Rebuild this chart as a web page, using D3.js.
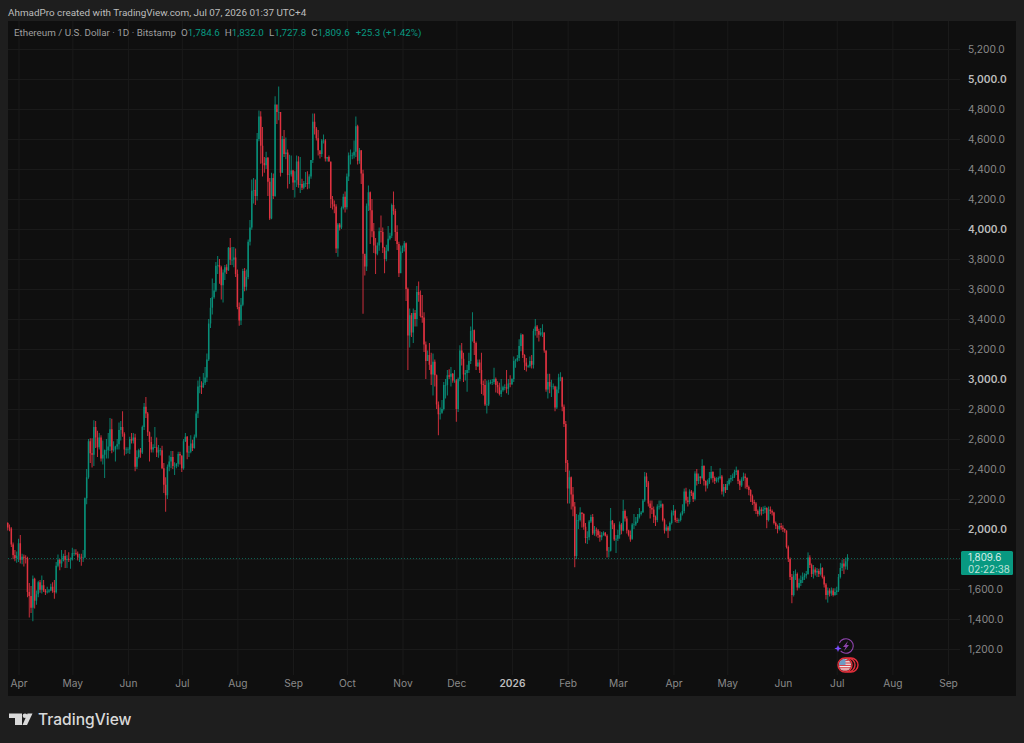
<!DOCTYPE html>
<html lang="en">
	<head>
		<meta charset="utf-8">
		<title>ETHUSD 1D</title>
		<style type="text/css">
			html, body {
				margin: 0;
				padding: 0;
				background: #1e1e1e;
			}
			svg {
				display: block;
				font-family: Roboto, Inter, sans-serif;
			}
		</style>
		<script src="https://cdn.jsdelivr.net/npm/d3@7"></script>
	</head>
	<body>
		<script>

			//Daily closes, Mar 26 2025 to Jul 7 2026, one line per month
			var closes = [
				2010,2003,1897,1826,1806,1822,
				1905,1795,1815,1808,1805,1580,1553,1475,1668,1522,1565,1645,1595,1625,1590,1578,1583,1590,1615,1588,1578,1755,1795,1770,1785,1820,1795,1800,1795,1795,
				1840,1840,1835,1810,1815,1810,1810,2205,2345,2585,2505,2495,2680,2610,2545,2610,2470,2495,2525,2525,2550,2665,2525,2530,2550,2565,2660,2680,2635,2530,2530,
				2530,2600,2590,2610,2415,2480,2525,2510,2680,2815,2770,2645,2580,2530,2545,2545,2510,2525,2525,2405,2295,2225,2415,2450,2480,2420,2420,2435,2500,2490,
				2405,2585,2615,2510,2515,2570,2540,2615,2770,2950,2955,2945,2975,3010,3130,3370,3475,3545,3590,3755,3760,3745,3625,3710,3745,3725,3875,3795,3795,3810,3700,
				3480,3390,3495,3720,3615,3680,3915,4010,4255,4260,4220,4600,4750,4555,4440,4425,4475,4315,4070,4340,4220,4830,4780,4780,4375,4600,4500,4510,4360,4365,4390,
				4310,4325,4450,4295,4300,4275,4305,4305,4300,4350,4460,4715,4670,4605,4525,4500,4590,4590,4470,4480,4450,4200,4165,4150,3870,4030,4010,4140,4215,4145,
				4350,4490,4490,4490,4515,4685,4455,4525,4370,3835,3750,4155,4245,4125,3985,3890,3835,3890,3985,3980,3875,3800,3855,3935,3955,4160,4120,3980,3900,3705,3850,
				3875,3905,3600,3290,3425,3310,3440,3400,3580,3560,3420,3410,3230,3120,3160,3095,3030,3115,3025,2830,2765,2770,2800,2960,2960,3025,3015,3035,2990,2990,
				2800,3000,3190,3135,3030,3040,3060,3120,3320,3325,3240,3085,3110,3060,2965,2960,2830,2830,2975,2980,2980,3000,2960,2945,2900,2925,2945,2945,2935,2970,2965,
				3000,3120,3125,3140,3220,3295,3160,3110,3085,3085,3120,3095,3320,3350,3320,3295,3310,3310,3190,2930,2980,2950,2950,2950,2810,2930,3010,3010,2815,2700,2440,
				2270,2345,2230,2150,1820,2060,2060,2110,2100,2015,1940,1945,2050,2080,1970,1995,1990,1960,1945,1960,1975,1955,1855,1855,2055,2030,1930,1935,
				1960,2030,1990,2120,2070,1990,1960,1930,2030,2030,2050,2080,2100,2110,2190,2350,2310,2170,2140,2130,2080,2060,2150,2150,2165,2060,1990,2010,1990,2040,2110,
				2120,2060,2055,2060,2100,2120,2250,2190,2180,2250,2240,2200,2370,2320,2350,2340,2420,2320,2290,2310,2340,2380,2340,2320,2330,2340,2350,2250,2280,2260,
				2300,2330,2340,2350,2380,2390,2320,2290,2330,2350,2340,2280,2260,2220,2180,2170,2120,2100,2130,2120,2130,2140,2060,2130,2120,2110,2040,2020,2000,2020,2010,
				2000,1990,1880,1800,1680,1560,1690,1700,1610,1640,1660,1680,1690,1700,1810,1760,1700,1730,1710,1720,1700,1740,1680,1630,1560,1590,1570,1590,1560,1580,
				1590,1680,1740,1770,1750,1784.6,1809.6
			];

			var highs = [
				2045,2030,2012,1910,1860,1850,
				1935,1960,1835,1830,1825,1815,1640,1620,1690,1675,1590,1655,1660,1690,1660,1600,1615,1600,1635,1645,1660,1780,1830,1800,1860,1835,1860,1825,1845,1810,
				1875,1865,1865,1850,1835,1835,1860,2210,2400,2600,2605,2605,2725,2720,2655,2640,2625,2590,2530,2600,2640,2740,2735,2585,2555,2600,2710,2720,2785,2645,2545,
				2545,2615,2640,2640,2635,2525,2535,2540,2690,2840,2880,2780,2650,2615,2565,2680,2610,2560,2540,2555,2440,2345,2430,2490,2520,2520,2445,2440,2515,2515,
				2490,2600,2640,2620,2555,2625,2595,2630,2785,2990,3015,2985,3040,3080,3170,3400,3540,3670,3640,3780,3820,3800,3755,3730,3760,3765,3880,3940,3880,3880,3870,
				3730,3510,3540,3735,3740,3730,3930,4060,4330,4340,4330,4640,4790,4785,4680,4480,4515,4480,4340,4375,4370,4885,4800,4950,4780,4620,4660,4610,4530,4495,4490,
				4395,4385,4490,4485,4480,4335,4320,4380,4385,4365,4460,4770,4770,4680,4660,4510,4600,4630,4600,4480,4490,4445,4220,4190,4165,4040,4040,4150,4235,4250,
				4370,4510,4530,4510,4590,4750,4695,4540,4525,4395,3820,4170,4290,4250,4200,4040,3940,3910,4010,4090,4010,3880,3895,4020,3975,4170,4250,4135,4025,3915,3890,
				3890,3920,3910,3610,3470,3440,3470,3460,3620,3650,3590,3560,3445,3250,3190,3240,3175,3170,3130,3030,2850,2810,2860,2980,3000,3060,3065,3080,3040,3060,
				3000,3010,3225,3240,3175,3060,3095,3175,3350,3445,3330,3250,3130,3130,3175,2990,3000,2990,2995,2995,3000,3075,3010,2985,2975,3000,2955,2965,3060,3000,3025,
				3005,3150,3135,3160,3265,3305,3300,3165,3140,3095,3150,3160,3335,3400,3360,3335,3340,3365,3310,3190,3035,3035,2995,2970,2955,2950,3035,3045,3015,2830,2720,
				2460,2390,2350,2280,2180,2100,2095,2145,2110,2105,2040,1985,2060,2095,2100,2020,2010,2000,1985,1980,1985,1980,1965,1880,2140,2060,2040,1960,
				1995,2050,2040,2195,2130,2085,1995,1990,2040,2100,2080,2100,2140,2120,2200,2380,2375,2320,2190,2190,2150,2090,2165,2190,2190,2170,2070,2030,2020,2050,2125,
				2160,2130,2075,2070,2110,2165,2270,2275,2215,2265,2260,2250,2385,2400,2370,2350,2465,2425,2325,2330,2380,2420,2385,2350,2345,2350,2405,2360,2300,2300,
				2320,2340,2360,2370,2395,2416,2395,2330,2345,2376,2370,2345,2290,2265,2230,2195,2180,2130,2150,2145,2150,2155,2145,2150,2150,2130,2115,2050,2030,2040,2040,
				2025,2005,1990,1890,1810,1700,1720,1730,1710,1670,1690,1710,1705,1720,1844,1825,1770,1760,1745,1740,1735,1771,1745,1690,1640,1610,1605,1610,1605,1605,
				1615,1700,1775,1795,1800,1810,1832
			];

			var lows = [
				1990,1985,1880,1800,1785,1775,
				1780,1770,1765,1750,1770,1545,1410,1440,1385,1470,1495,1545,1575,1570,1580,1560,1570,1575,1585,1575,1535,1570,1745,1725,1745,1785,1740,1740,1780,1735,
				1790,1820,1825,1790,1780,1755,1780,1805,2165,2335,2440,2410,2420,2540,2480,2530,2450,2430,2340,2470,2470,2520,2505,2515,2450,2530,2530,2590,2615,2490,2500,
				2505,2500,2570,2570,2385,2400,2470,2475,2500,2660,2740,2620,2450,2510,2510,2540,2480,2475,2490,2400,2240,2115,2200,2385,2405,2400,2360,2405,2415,2430,
				2380,2395,2580,2465,2480,2505,2520,2535,2605,2740,2905,2900,2940,2960,2980,3120,3340,3430,3535,3580,3700,3635,3530,3510,3660,3700,3720,3760,3760,3745,3680,
				3465,3355,3360,3485,3585,3590,3665,3890,3995,4170,4160,4190,4585,4435,4350,4375,4400,4220,4060,4065,4200,4215,4700,4725,4350,4375,4480,4465,4270,4300,4350,
				4260,4210,4280,4275,4240,4260,4265,4280,4265,4270,4335,4440,4630,4590,4490,4470,4480,4570,4450,4450,4450,4140,4130,4105,3840,3815,3990,4000,4130,4110,
				4130,4320,4430,4465,4470,4480,4430,4435,4300,3435,3690,3720,4120,3900,3945,3840,3700,3825,3855,3910,3840,3705,3785,3850,3925,3940,4095,3920,3860,3680,3790,
				3840,3850,3520,3060,3210,3280,3240,3350,3350,3515,3410,3375,3180,3000,3120,3060,2960,2890,2950,2800,2625,2730,2780,2790,2870,2890,3000,2950,2975,2975,
				2715,2780,2985,3090,2980,2990,2915,3040,3100,3250,3160,3060,3080,3040,2900,2890,2820,2770,2820,2965,2960,2965,2910,2905,2890,2880,2915,2925,2905,2895,2945,
				2960,2980,3075,3115,3120,3185,3140,3060,3050,3075,3075,3070,3070,3290,3275,3250,3285,3280,3175,2915,2870,2905,2880,2930,2785,2800,2905,2985,2785,2680,2380,
				2170,2170,2130,2085,1745,1800,2000,2050,2010,1995,1905,1900,1925,2040,1960,1955,1950,1940,1915,1925,1955,1950,1810,1810,1850,2000,1920,1840,
				1920,1935,1965,1985,2050,1970,1950,1915,1940,2000,2020,2040,2070,2090,2110,2180,2280,2150,2070,2100,2040,2020,2045,2130,2140,2050,1970,1985,1940,1985,2030,
				2090,2045,2040,2040,2050,2090,2105,2170,2150,2165,2220,2180,2190,2290,2300,2300,2330,2290,2250,2270,2300,2330,2310,2300,2310,2310,2330,2230,2216,2240,
				2260,2290,2310,2320,2340,2360,2300,2260,2280,2320,2270,2265,2225,2180,2160,2120,2100,2083,2090,2090,2100,2105,2005,2050,2100,2090,2030,2000,1971,1990,1995,
				1980,1975,1870,1780,1660,1505,1550,1660,1590,1604,1620,1640,1660,1670,1695,1740,1680,1670,1690,1680,1680,1690,1670,1610,1530,1509,1550,1555,1550,1555,
				1560,1580,1670,1720,1700,1730,1727.8
			];

			var firstOpen = 2040;
			var priceTicks = [1200, 1400, 1600, 1800, 2000, 2200, 2400, 2600, 2800, 3000, 3200, 3400, 3600, 3800, 4000, 4200, 4400, 4600, 4800, 5000, 5200];
			var boldPrices = [2000, 3000, 4000, 5000];
			var hiddenPrice = 1800;	//sits under the last price label, so it shows no text
			var monthTicks = ["2025-04-01", "2025-05-01", "2025-06-01", "2025-07-01", "2025-08-01", "2025-09-01", "2025-10-01", "2025-11-01", "2025-12-01", "2026-01-01", "2026-02-01", "2026-03-01", "2026-04-01", "2026-05-01", "2026-06-01", "2026-07-01", "2026-08-01", "2026-09-01"];
			var monthLabels = ["Apr", "May", "Jun", "Jul", "Aug", "Sep", "Oct", "Nov", "Dec", "2026", "Feb", "Mar", "Apr", "May", "Jun", "Jul", "Aug", "Sep"];
			var legendParts = [["O", "1,784.6"], ["H", "1,832.0"], ["L", "1,727.8"], ["C", "1,809.6"]];
			var lastChange = "+25.3 (+1.42%)";
			var lastPrice = 1809.6;
			var countdown = "02:22:38";

			//Width and height
			var w = 1024;
			var h = 743;
			var plotRight = 960;
			var plotBottom = 675;
			var up = "#089981";
			var down = "#f23645";
			var parseDay = d3.utcParse("%Y-%m-%d");

			//Scales, pinned to the month ticks and price ticks of the picture
			var xScale = d3.scaleUtc()
				.domain([parseDay("2025-04-01"), parseDay("2026-09-01")])
				.range([18.5, 948]);

			var yScale = d3.scaleLinear()
				.domain([1200, 5200])
				.range([649, 49]);

			//Candles from the arrays
			var firstDay = parseDay("2025-03-26");
			var candles = closes.map(function(c, i) {
				return {
					day: d3.utcDay.offset(firstDay, i),
					open: i == 0 ? firstOpen : closes[i - 1],
					high: highs[i],
					low: lows[i],
					close: c
				};
			});

			//Create SVG element
			var svg = d3.select("body")
				.append("svg")
				.attr("width", w)
				.attr("height", h);

			//Panel
			svg.append("rect")
				.attr("x", 8)
				.attr("y", 21)
				.attr("width", 1008)
				.attr("height", 675)
				.attr("fill", "#0f0f0f");

			//Header line
			svg.append("text")
				.attr("x", 8)
				.attr("y", 16)
				.attr("font-size", 9.9)
				.attr("fill", "#bdbdbd")
				.text("AhmadPro created with TradingView.com, Jul 07, 2026 01:37 UTC+4");

			//Define X axis with grid
			var xAxis = d3.axisBottom(xScale)
				.tickValues(monthTicks.map(parseDay))
				.tickSize(plotBottom - 21)
				.tickPadding(5)
				.tickFormat(function(d, i) { return monthLabels[i]; });

			var xG = svg.append("g")
				.attr("transform", "translate(0,21)")
				.call(xAxis);
			xG.select(".domain").remove();
			xG.selectAll("line").attr("stroke", "#1a1a1a");
			xG.selectAll("text")
				.attr("font-family", "Inter, Roboto, sans-serif")
				.attr("font-size", 10.2)
				.attr("font-weight", function(d, i) { return monthLabels[i] == "2026" ? 600 : 400; })
				.attr("fill", function(d, i) { return monthLabels[i] == "2026" ? "#bcbcbc" : "#8a8a8a"; });

			//Define Y axis with grid
			var yAxis = d3.axisRight(yScale)
				.tickValues(priceTicks)
				.tickSize(plotRight - 8)
				.tickPadding(8)
				.tickFormat(function(d) { return d == hiddenPrice ? "" : d3.format(",.1f")(d); });

			var yG = svg.append("g")
				.attr("transform", "translate(8,0)")
				.call(yAxis);
			yG.select(".domain").remove();
			yG.selectAll("line").attr("stroke", "#1a1a1a");
			yG.selectAll("text")
				.attr("font-family", "Inter, Roboto, sans-serif")
				.attr("font-size", 10.2)
				.attr("font-weight", function(d) { return boldPrices.indexOf(d) >= 0 ? 600 : 400; })
				.attr("fill", function(d) { return boldPrices.indexOf(d) >= 0 ? "#bcbcbc" : "#8a8a8a"; });

			//Last price line
			svg.append("line")
				.attr("x1", 8)
				.attr("x2", plotRight)
				.attr("y1", Math.round(yScale(lastPrice)) + 0.5)
				.attr("y2", Math.round(yScale(lastPrice)) + 0.5)
				.attr("stroke", up)
				.attr("stroke-opacity", 0.6)
				.attr("stroke-dasharray", "1 2");

			//Create candles
			var candle = svg.append("g")
				.attr("opacity", 0.92)
				.selectAll("g")
				.data(candles)
				.enter()
				.append("g")
				.attr("fill", function(d) { return d.close >= d.open ? up : down; })
				.attr("stroke", function(d) { return d.close >= d.open ? up : down; });

			candle.append("line")
				.attr("x1", function(d) { return xScale(d.day); })
				.attr("x2", function(d) { return xScale(d.day); })
				.attr("y1", function(d) { return yScale(d.high); })
				.attr("y2", function(d) { return yScale(d.low); })
				.attr("stroke-width", 0.9);

			candle.append("rect")
				.attr("x", function(d) { return xScale(d.day) - 0.75; })
				.attr("width", 1.5)
				.attr("y", function(d) { return yScale(Math.max(d.open, d.close)); })
				.attr("height", function(d) { return Math.max(0.6, Math.abs(yScale(d.open) - yScale(d.close))); })
				.attr("stroke", "none");

			//Legend
			var legend = svg.append("text")
				.attr("x", 14)
				.attr("y", 36)
				.attr("font-size", 9.8)
				.attr("fill", "#9e9e9e");
			legend.append("tspan").text("Ethereum / U.S. Dollar · 1D · Bitstamp");
			legendParts.forEach(function(p, i) {
				legend.append("tspan").attr("dx", 5).text(p[0]);
				legend.append("tspan").attr("fill", up).text(p[1]);
			});
			legend.append("tspan").attr("dx", 6).attr("fill", up).text(lastChange);

			//Price label
			svg.append("rect")
				.attr("x", 961)
				.attr("y", 551)
				.attr("width", 52)
				.attr("height", 24)
				.attr("rx", 1.5)
				.attr("fill", up);
			svg.append("text")
				.attr("x", 968)
				.attr("y", 560.5)
				.attr("font-family", "Inter, Roboto, sans-serif")
				.attr("font-size", 9.8)
				.attr("fill", "#d8efe9")
				.text(d3.format(",.1f")(lastPrice));
			svg.append("text")
				.attr("x", 968)
				.attr("y", 572.5)
				.attr("font-family", "Inter, Roboto, sans-serif")
				.attr("font-size", 9.8)
				.attr("fill", "#bfe3da")
				.text(countdown);

			//Lightning badge
			var bolt = svg.append("g").attr("transform", "translate(846,646)");
			bolt.append("circle")
				.attr("r", 7.3)
				.attr("fill", "none")
				.attr("stroke", "#8e44ad")
				.attr("stroke-width", 1.1)
				.attr("stroke-dasharray", "37 9")
				.attr("transform", "rotate(205)");
			bolt.append("path")
				.attr("d", "M2,-5 L-3,1 L-0.4,1 L-2,5 L3,-1 L0.4,-1 Z")
				.attr("fill", "#8e44ad");
			bolt.append("path")
				.attr("transform", "translate(-8,2.5)")
				.attr("d", "M0,-3.6 L1,-1 L3.6,0 L1,1 L0,3.6 L-1,1 L-3.6,0 L-1,-1 Z")
				.attr("fill", "#7c4dff");

			//Flag badge
			var flag = svg.append("g").attr("transform", "translate(845,665)");
			[6, 3, 0].forEach(function(dx) {
				flag.append("circle")
					.attr("cx", dx)
					.attr("r", 7)
					.attr("fill", "#0f0f0f")
					.attr("stroke", "#e5303c")
					.attr("stroke-width", 1.4);
			});
			flag.append("clipPath").attr("id", "flagClip").append("circle").attr("r", 6);
			var flagInner = flag.append("g").attr("clip-path", "url(#flagClip)");
			flagInner.append("rect").attr("x", -6).attr("y", -6).attr("width", 12).attr("height", 12).attr("fill", "#eeeeee");
			[-5, -2.6, -0.2, 2.2, 4.6].forEach(function(sy) {
				flagInner.append("rect").attr("x", -6).attr("y", sy).attr("width", 12).attr("height", 1.2).attr("fill", "#d9404a");
			});
			flagInner.append("rect").attr("x", -6).attr("y", -6).attr("width", 6.5).attr("height", 6).attr("fill", "#6f9ac4");

			//TradingView logo
			var logo = svg.append("g").attr("fill", "#d9d9d9");
			logo.append("path").attr("d", "M9,713.5 H22 V725 H15 V718 H9 Z");
			logo.append("circle").attr("cx", 25).attr("cy", 715.8).attr("r", 2.3);
			logo.append("path").attr("d", "M27.5,713.5 H32.5 L27,725 H22.5 Z");
			logo.append("text")
				.attr("x", 38)
				.attr("y", 725)
				.attr("font-family", "Inter, Roboto, sans-serif")
				.attr("font-size", 15.6)
				.attr("font-weight", 500)
				.text("TradingView");

		</script>
	</body>
</html>
